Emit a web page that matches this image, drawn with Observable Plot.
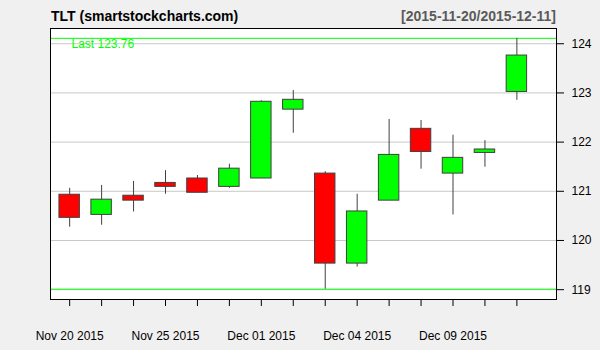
<!DOCTYPE html>
<html>
<head>
<meta charset="utf-8">
<script src="https://cdn.jsdelivr.net/npm/d3@7"></script>
<script src="https://cdn.jsdelivr.net/npm/@observablehq/plot@0.6"></script>
<style>
  html, body { margin: 0; padding: 0; background: #f0f0f0; }
  #wrap { width: 600px; height: 350px; background: #f0f0f0; font-family: "Liberation Sans", Arial, sans-serif; }
  #title { position: relative; width: 600px; height: 20px; }
  #title span { position: absolute; top: 8px; font-size: 14px; font-weight: bold; line-height: 16px; white-space: nowrap; }
  #t1 { left: 51px; color: #000; }
  #t2 { right: 44px; color: #5a5a5a; }
  svg { display: block; }
</style>
</head>
<body>
<div id="wrap">
  <div id="title"><span id="t1">TLT (smartstockcharts.com)</span><span id="t2">[2015-11-20/2015-12-11]</span></div>
  <div id="chart"></div>
</div>
<script>
const dates = ["2015-11-20","2015-11-23","2015-11-24","2015-11-25","2015-11-27","2015-11-30","2015-12-01","2015-12-02","2015-12-03","2015-12-04","2015-12-07","2015-12-08","2015-12-09","2015-12-10","2015-12-11"];
const open  = [120.93, 120.52, 120.91, 121.17, 121.26, 121.09, 121.26, 122.66, 121.36, 119.53, 120.81, 122.27, 121.36, 121.78, 123.02];
const high  = [121.06, 121.12, 121.20, 121.42, 121.32, 121.55, 122.84, 123.05, 121.40, 120.94, 122.46, 122.44, 122.14, 122.03, 124.11];
const low   = [120.27, 120.31, 120.58, 120.94, 120.97, 121.06, 121.26, 122.18, 119.01, 119.46, 120.81, 121.45, 120.52, 121.49, 122.85];
const close = [120.46, 120.83, 120.81, 121.09, 120.97, 121.46, 122.82, 122.86, 119.53, 120.59, 121.74, 121.80, 121.68, 121.85, 123.76];

const yTicks = [119, 120, 121, 122, 123, 124];
const xLabelIdx = [0, 3, 6, 9, 12];
const xLabels = ["Nov 20 2015", "Nov 25 2015", "Dec 01 2015", "Dec 04 2015", "Dec 09 2015"];
const lastLabel = "Last " + close[close.length - 1].toFixed(2);

const data = dates.map((d, i) => ({i, date: d, open: open[i], high: high[i], low: low[i], close: close[i]}));
const idx = data.map(d => d.i);
const hiMax = d3.max(high), loMin = d3.min(low);

const chart = Plot.plot({
  width: 600,
  height: 330,
  marginTop: 8,
  marginBottom: 51,
  marginLeft: 50,
  marginRight: 44,
  style: {background: "transparent", fontSize: "12px", fontFamily: "'Liberation Sans', Arial, sans-serif", color: "#000"},
  x: {type: "linear", domain: [-0.6, 15.24], label: null},
  y: {domain: [118.80, 124.31], label: null},
  marks: [
    Plot.frame({fill: "white", stroke: null}),
    Plot.gridY(yTicks, {stroke: "#c8c8c8", strokeOpacity: 1}),
    Plot.ruleY([hiMax, loMin], {stroke: "#00ff00", strokeWidth: 1}),
    Plot.ruleX(data, {x: "i", y1: "low", y2: "high", stroke: "#404040", strokeWidth: 1}),
    Plot.rect(data, {
      x1: d => d.i - 0.32, x2: d => d.i + 0.32,
      y1: "open", y2: "close",
      fill: d => d.close >= d.open ? "#00ff00" : "#ff0000",
      stroke: "#404040", strokeWidth: 1
    }),
    Plot.text([lastLabel], {frameAnchor: "left", y: () => hiMax, text: d => d, dx: 21, dy: 6, textAnchor: "start", fill: "#00ff00", fontSize: 12}),
    Plot.frame({stroke: "black", strokeWidth: 1}),
    Plot.axisY(yTicks, {anchor: "right", tickSize: 7, tickPadding: 8, label: null, fontSize: 12}),
    Plot.axisX(idx, {anchor: "bottom", tickSize: 7, tickPadding: 25, label: null, fontSize: 12,
      tickFormat: i => { const k = xLabelIdx.indexOf(i); return k >= 0 ? xLabels[k] : ""; }})
  ]
});
document.getElementById("chart").appendChild(chart);
</script>
</body>
</html>
